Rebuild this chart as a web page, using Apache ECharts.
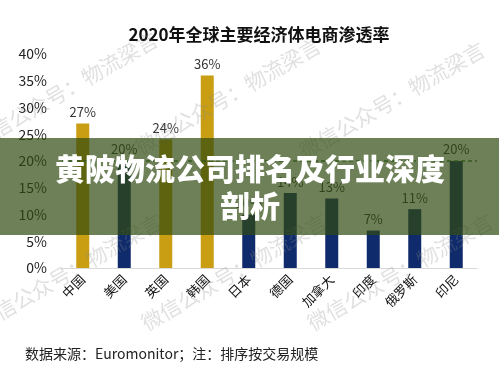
<!DOCTYPE html>
<html><head><meta charset="utf-8">
<script src="https://cdn.jsdelivr.net/npm/echarts@6/dist/echarts.min.js"></script>
<style>html,body{margin:0;padding:0;background:#fff}#c{width:499px;height:374px}</style>
</head><body><div id="c"></div>
<script>
const chartTitle = '2020年全球主要经济体电商渗透率';
const categories = ['中国','美国','英国','韩国','日本','德国','加拿大','印度','俄罗斯','印尼'];
const penetration = [27, 20, 24, 36, 10, 14, 13, 7, 11, 20];
const highlightCats = ['中国','英国','韩国'];
const referenceLevel = 20;
const yTicks = [0, 5, 10, 15, 20, 25, 30, 35, 40];
const footnote = '数据来源：Euromonitor；注：排序按交易规模';
const bannerLines = ['黄陂物流公司排名及行业深度', '剖析'];
const watermarkText = '微信公众号：物流梁言';

const FONT = '"Noto Sans CJK SC", "Noto Sans", sans-serif';
const GOLD = '#C99E12', NAVY = '#0F2B6B';

const wmPos = [[65,90],[228,96],[392,100],[69,272],[234,272],[400,272]];
const graphics = wmPos.map(p => ({
  type: 'text', x: p[0], y: p[1], rotation: 30 * Math.PI / 180, z: 50, silent: true,
  style: { text: watermarkText, x: 0, y: 0, align: 'center', verticalAlign: 'middle',
           font: '21px ' + FONT, fill: 'rgba(140,140,140,0.27)' }
}));
graphics.push({ type: 'rect', z: 100, silent: true, shape: { x: 0, y: 138, width: 499, height: 97 },
  style: { fill: 'rgba(49,74,15,0.70)' } });
graphics.push({ type: 'text', z: 101, silent: true, x: 250, y: 169,
  style: { text: bannerLines[0], x: 0, y: 0, align: 'center', verticalAlign: 'middle',
           font: '900 30px ' + FONT, fill: '#ffffff' } });
graphics.push({ type: 'text', z: 101, silent: true, x: 250, y: 206,
  style: { text: bannerLines[1], x: 0, y: 0, align: 'center', verticalAlign: 'middle',
           font: '900 30px ' + FONT, fill: '#ffffff' } });
graphics.push({ type: 'text', z: 60, silent: true, x: 25, y: 354,
  style: { text: footnote, x: 0, y: 0, align: 'left', verticalAlign: 'middle',
           font: '14px ' + FONT, fill: '#222' } });

const chart = echarts.init(document.getElementById('c'), null, { renderer: 'canvas' });
chart.setOption({
  animation: false,
  backgroundColor: '#fff',
  title: { text: chartTitle, left: 254, top: 21, textAlign: 'center',
    textStyle: { fontFamily: FONT, fontSize: 17, fontWeight: 'bold', color: '#111' } },
  grid: { left: 62, right: 22, top: 54, bottom: 106, containLabel: false },
  xAxis: {
    type: 'category', data: categories,
    axisLine: { lineStyle: { color: '#d9d9d9', width: 1 } },
    axisTick: { show: false },
    axisLabel: { rotate: 45, margin: 9, fontFamily: FONT, fontSize: 13, color: '#111', interval: 0 }
  },
  yAxis: {
    type: 'value', min: yTicks[0], max: yTicks[yTicks.length - 1], interval: 5,
    axisLine: { show: false }, axisTick: { show: false }, splitLine: { show: false },
    axisLabel: { margin: 15, fontFamily: FONT, fontSize: 14, color: '#222', formatter: v => v + '%' }
  },
  series: [{
    type: 'bar', data: penetration, barWidth: 13,
    itemStyle: { color: p => highlightCats.includes(categories[p.dataIndex]) ? GOLD : NAVY },
    label: { show: true, position: 'top', distance: 5, fontFamily: FONT, fontSize: 13, color: '#333',
             formatter: p => p.value + '%' },
    markLine: {
      silent: true, symbol: 'none', label: { show: false },
      lineStyle: { type: [4, 3], color: '#3f7f3f', width: 1.5 },
      data: [{ yAxis: referenceLevel }]
    }
  }],
  graphic: graphics
});
</script>
</body></html>
